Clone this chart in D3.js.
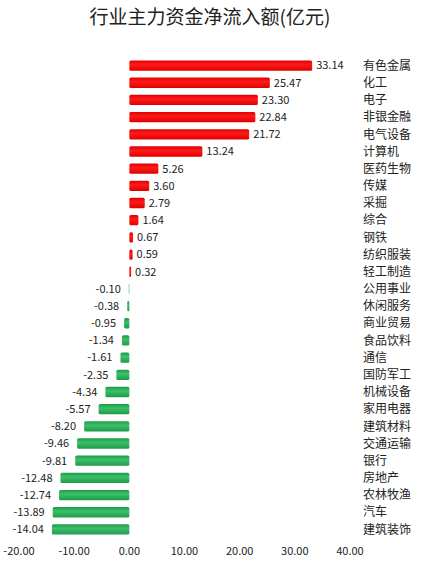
<!DOCTYPE html>
<html><head><meta charset="utf-8">
<script src="https://cdn.jsdelivr.net/npm/d3@7"></script>
<style>body{margin:0;background:#fff}text{font-family:"Noto Sans CJK SC",sans-serif}</style>
</head><body><svg id="chart" width="421" height="573"></svg>
<script>
const categories = ["有色金属","化工","电子","非银金融","电气设备","计算机","医药生物","传媒","采掘","综合","钢铁","纺织服装","轻工制造","公用事业","休闲服务","商业贸易","食品饮料","通信","国防军工","机械设备","家用电器","建筑材料","交通运输","银行","房地产","农林牧渔","汽车","建筑装饰"];
const values = [33.14,25.47,23.30,22.84,21.72,13.24,5.26,3.60,2.79,1.64,0.67,0.59,0.32,-0.10,-0.38,-0.95,-1.34,-1.61,-2.35,-4.34,-5.57,-8.20,-9.46,-9.81,-12.48,-12.74,-13.89,-14.04];
const ticks = [-20,-10,0,10,20,30,40];

const svg = d3.select("#chart");
svg.append("text").attr("x", 210).attr("y", 24).attr("text-anchor", "middle")
    .attr("font-size", 19).attr("fill", "#222").text("行业主力资金净流入额(亿元)");

const x = d3.scaleLinear().domain([-20, 40]).range([19, 350]);
const y = d3.scaleBand().domain(categories).range([57, 538]).paddingInner(0.4).paddingOuter(0.2);

const defs = svg.append("defs");
function grad(id, c1, c2) {
    const g = defs.append("linearGradient").attr("id", id).attr("x1", 0).attr("y1", 0).attr("x2", 0).attr("y2", 1);
    g.append("stop").attr("offset", "0%").attr("stop-color", c1);
    g.append("stop").attr("offset", "40%").attr("stop-color", c2);
    g.append("stop").attr("offset", "100%").attr("stop-color", c1);
}
grad("gr", "#e00000", "#ff1a1a");
grad("gg", "#1f9a48", "#3cc06a");

const data = categories.map((c, i) => ({c, v: values[i]}));
const row = svg.append("g").selectAll("g").data(data).enter().append("g");

row.append("rect")
    .attr("x", d => x(Math.min(0, d.v)))
    .attr("y", d => y(d.c))
    .attr("width", d => Math.abs(x(d.v) - x(0)))
    .attr("height", y.bandwidth())
    .attr("rx", 1.5)
    .attr("fill", d => d.v >= 0 ? "url(#gr)" : "url(#gg)");

row.append("text")
    .attr("x", d => d.v >= 0 ? x(d.v) + 4 : x(d.v) - 8)
    .attr("y", d => y(d.c) + y.bandwidth() / 2)
    .attr("dy", "0.35em")
    .attr("text-anchor", d => d.v >= 0 ? "start" : "end")
    .attr("font-size", 11).attr("fill", "#222")
    .text(d => d.v.toFixed(2));

row.append("text")
    .attr("x", 363)
    .attr("y", d => y(d.c) + y.bandwidth() / 2)
    .attr("dy", "0.35em")
    .attr("font-size", 12).attr("fill", "#222")
    .text(d => d.c);

svg.append("g").selectAll("text").data(ticks).enter().append("text")
    .attr("x", d => x(d)).attr("y", 555).attr("text-anchor", "middle")
    .attr("font-size", 11).attr("fill", "#222")
    .text(d => d.toFixed(2));
</script></body></html>
